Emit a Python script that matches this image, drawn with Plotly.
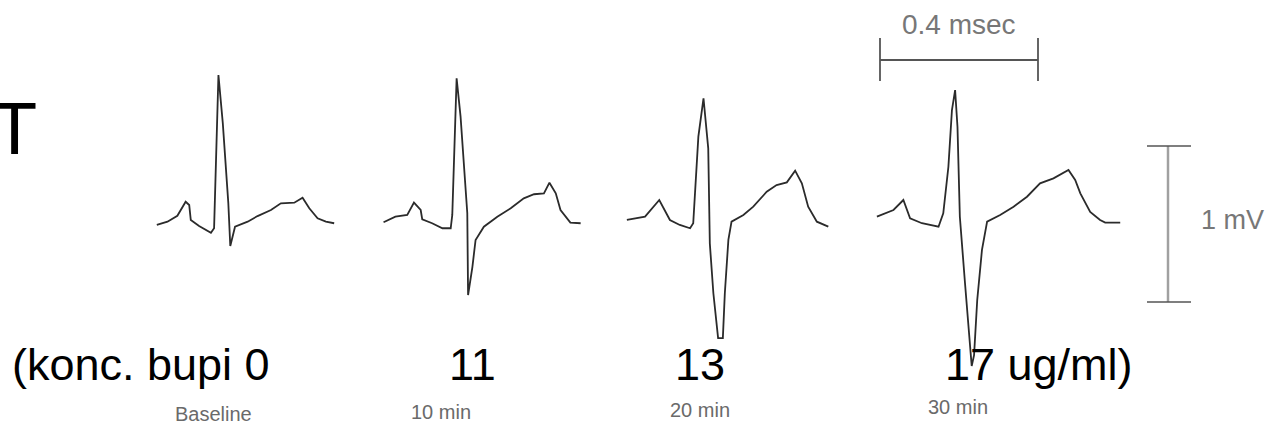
import plotly.graph_objects as go

# ---------------- data ----------------
# time in ms from beat start, voltage in mV relative to baseline
beat_labels = ["Baseline", "10 min", "20 min", "30 min"]
conc_labels = ["(konc. bupi 0", "11", "13", "17 ug/ml)"]
beat_start_ms = [397, 971, 1587, 2220]

b1_t = [0, 27, 52, 73, 82, 86, 107, 137, 145, 156, 167, 181, 186, 198, 230, 255, 289, 314, 348, 369, 386, 407, 428, 449]
b1_v = [-0.019, 0.002, 0.040, 0.130, 0.109, 0.013, -0.026, -0.069, -0.040, 0.942, 0.635, 0.122, -0.154, -0.030,
        0.002, 0.038, 0.077, 0.120, 0.124, 0.156, 0.088, 0.024, 0.002, -0.008]

b2_t = [0, 30, 60, 77, 94, 98, 123, 149, 170, 174, 185, 195, 212, 214, 225, 233, 254, 288, 322, 355, 381, 406,
        420, 436, 448, 473, 499]
b2_v = [-0.002, 0.034, 0.045, 0.124, 0.077, 0.017, -0.008, -0.040, -0.040, 0.045, 0.921, 0.675, 0.056, -0.468,
        -0.287, -0.115, -0.030, 0.034, 0.088, 0.152, 0.178, 0.184, 0.252, 0.184, 0.077, -0.004, -0.008]

b3_t = [0, 46, 82, 109, 134, 160, 168, 181, 194, 206, 210, 219, 231, 243, 248, 257, 265, 295, 320, 354, 379, 405,
        426, 443, 459, 481, 510]
b3_v = [0.013, 0.034, 0.141, 0.013, -0.019, -0.040, -0.008, 0.547, 0.793, 0.472, -0.137, -0.457, -0.744, -0.744,
        -0.457, -0.115, 0.002, 0.045, 0.098, 0.194, 0.237, 0.254, 0.329, 0.248, 0.098, 0.002, -0.030]

b4_t = [0, 42, 67, 84, 114, 156, 168, 181, 190, 198, 204, 210, 223, 233, 240, 246, 254, 266, 279, 312, 346, 380,
        413, 447, 485, 502, 515, 540, 565, 578, 616]
b4_v = [0.034, 0.077, 0.141, 0.024, -0.008, -0.030, 0.056, 0.354, 0.718, 0.846, 0.611, 0.034, -0.391, -0.724,
        -0.923, -0.853, -0.500, -0.179, 0.002, 0.045, 0.098, 0.162, 0.248, 0.280, 0.333, 0.269, 0.184, 0.064,
        0.013, -0.004, -0.004]

beats_t = [b1_t, b2_t, b3_t, b4_t]
beats_v = [b1_v, b2_v, b3_v, b4_v]

scale_time = 0.4      # label value of horizontal bar
scale_time_ms = 400   # its length in axis units
scale_mv = 1.0

# ---------------- layout helpers ----------------
W, H = 1272, 432
MS_PER_PX = 1000 / 395.0
MV_PER_PX = 1 / 156.0
BASE_PX = 222


def px_x(p):
    return p * MS_PER_PX


def px_y(p):
    return (BASE_PX - p) * MV_PER_PX


fig = go.Figure()
for st, tt, vv in zip(beat_start_ms, beats_t, beats_v):
    fig.add_trace(go.Scatter(x=[st + t for t in tt], y=vv, mode="lines",
                             line=dict(color="#2b2b2b", width=1.8), hoverinfo="skip",
                             showlegend=False))

bar_col = "#555555"
# horizontal time scale bar
hx0 = px_x(880)
hx1 = hx0 + scale_time_ms
hy = px_y(60)
fig.add_shape(type="line", x0=hx0, x1=hx1, y0=hy, y1=hy, line=dict(color=bar_col, width=1.8))
for xx in (hx0, hx1):
    fig.add_shape(type="line", x0=xx, x1=xx, y0=px_y(38), y1=px_y(81), line=dict(color=bar_col, width=1.8))
fig.add_annotation(x=(hx0 + hx1) / 2, y=px_y(24), text=f"{scale_time} msec", showarrow=False,
                   font=dict(family="Liberation Sans, Arial", size=28, color="#777777"))

# vertical mV scale bar
vx = px_x(1168)
vtop = px_y(146)
vbot = vtop - scale_mv * 1.0
fig.add_shape(type="line", x0=vx, x1=vx, y0=vtop, y1=vbot, line=dict(color="#a0a0a0", width=2.5))
for yy in (vtop, vbot):
    fig.add_shape(type="line", x0=px_x(1147), x1=px_x(1191), y0=yy, y1=yy, line=dict(color=bar_col, width=1.6))
fig.add_annotation(x=px_x(1199), y=px_y(220), text=f"{int(scale_mv)} mV", showarrow=False, xanchor="left",
                   font=dict(family="Liberation Sans, Arial", size=27, color="#777777"))

# big concentration labels
big = dict(family="Liberation Sans, Arial", size=45, color="#000000")
fig.add_annotation(x=px_x(10), y=px_y(364), text=conc_labels[0], showarrow=False, xanchor="left", font=big)
fig.add_annotation(x=px_x(472), y=px_y(364), text=conc_labels[1], showarrow=False, font=big)
fig.add_annotation(x=px_x(700), y=px_y(364), text=conc_labels[2], showarrow=False, font=big)
fig.add_annotation(x=px_x(943), y=px_y(364), text=conc_labels[3], showarrow=False, xanchor="left", font=big)

# time labels
small = dict(family="Liberation Sans, Arial", size=20, color="#6a6a6a")
for cx, cy, lab in zip([213, 441, 700, 958], [414, 412, 410, 407], beat_labels):
    fig.add_annotation(x=px_x(cx), y=px_y(cy), text=lab, showarrow=False, font=small)

# clipped letter at far left
fig.add_annotation(x=px_x(39), y=px_y(128), text="T", showarrow=False, xanchor="right",
                   font=dict(family="Liberation Sans, Arial", size=74, color="#000000"))

fig.update_xaxes(range=[px_x(0), px_x(W)], visible=False, fixedrange=True)
fig.update_yaxes(range=[px_y(H), px_y(0)], visible=False, fixedrange=True)
fig.update_layout(width=W, height=H, margin=dict(l=0, r=0, t=0, b=0),
                  paper_bgcolor="white", plot_bgcolor="white", showlegend=False)

fig.write_html("out.html", config={"displayModeBar": False},
               post_script="document.body.style.margin='0';")
